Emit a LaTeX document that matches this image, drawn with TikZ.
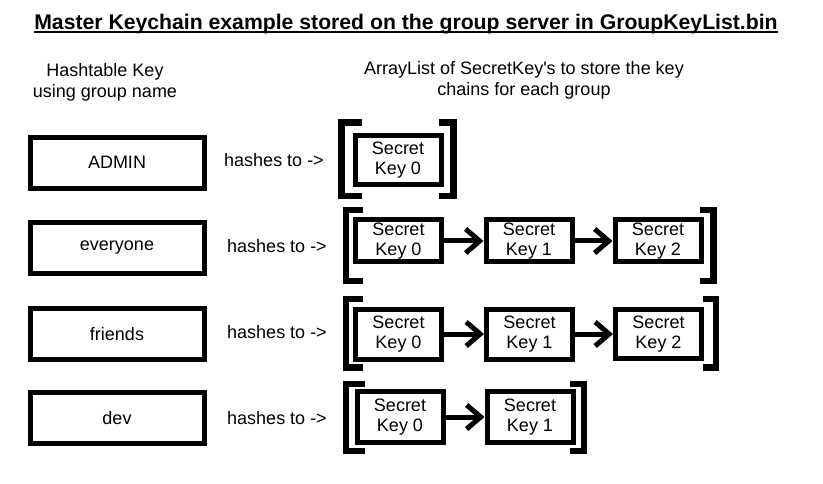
\documentclass[tikz,border=0pt]{standalone}
\usepackage{fontspec}
\setmainfont{Liberation Sans}
\usetikzlibrary{shapes, arrows.meta, positioning}
\tikzstyle{block} = [draw, rectangle, line width=5pt,
    minimum height=51pt, minimum width=174pt, inner sep=0pt]
\tikzstyle{keyblock} = [draw, rectangle, line width=5pt,
    minimum width=86pt, inner sep=0pt, align=center]
\tikzstyle{bracket} = [line width=6.5pt]
\tikzstyle{link} = [line width=5pt, -{Straight Barb[length=14pt, width=24pt]}]

\begin{document}
\begin{tikzpicture}[x=1pt, y=-1pt, font=\fontsize{18}{20.5}\selectfont]
        \useasboundingbox (0,0) rectangle (823,484);
        \node[inner sep=0pt, anchor=base, font=\fontsize{21.2}{25}\selectfont\bfseries] (title) at (406,30) {Master Keychain example stored on the group server in GroupKeyList.bin};
        \draw[line width=2pt] ([yshift=-2.3pt]title.base west) -- ([yshift=-2.3pt]title.base east);
        \node[inner sep=0pt, align=center] (hashhead) at (105,82.5) {Hashtable Key\\using group name};
        \node[inner sep=0pt, align=center] (listhead) at (524,80.5) {ArrayList of SecretKey\textquotesingle s to store the key\\chains for each group};

        % group names
        \node[block] (admin) at (117,162.75) {ADMIN};
        \node[block] (everyone) at (117,248) {everyone};
        \node[block] (friends) at (117,334) {friends};
        \node[block] (dev) at (117,418) {dev};

        \node (hashadmin) at (274,160) {hashes to ->};
        \node (hasheveryone) at (277,246) {hashes to ->};
        \node (hashfriends) at (277,332) {hashes to ->};
        \node (hashdev) at (277,418) {hashes to ->};

        % key chains
        \node[keyblock, minimum height=49.5pt] (adminkey0) at (398,160) {Secret\\Key 0};
        \node[keyblock, minimum height=42pt] (everyonekey0) at (398.5,241) {Secret\\Key 0};
        \node[keyblock, minimum height=42pt] (everyonekey1) at (529,241) {Secret\\Key 1};
        \node[keyblock, minimum height=42pt] (everyonekey2) at (658,241) {Secret\\Key 2};
        \node[keyblock, minimum height=50pt] (friendskey0) at (398.5,334) {Secret\\Key 0};
        \node[keyblock, minimum height=50pt] (friendskey1) at (529.5,334) {Secret\\Key 1};
        \node[keyblock, minimum height=49pt] (friendskey2) at (658.5,334) {Secret\\Key 2};
        \node[keyblock, minimum height=51pt] (devkey0) at (400,417) {Secret\\Key 0};
        \node[keyblock, minimum height=51pt] (devkey1) at (530,417) {Secret\\Key 1};

        \draw[link] (everyonekey0) -- (everyonekey1);
        \draw[link] (everyonekey1) -- (everyonekey2);
        \draw[link] (friendskey0) -- (friendskey1);
        \draw[link] (friendskey1) -- (friendskey2);
        \draw[link] (devkey0) -- (devkey1);

        % brackets round each list
        \draw[bracket] (361.7,122.5) -| (341.5,195.8) -- (361.7,195.8);
        \draw[bracket] (439,122.5) -| (453.5,195.8) -- (439,195.8);
        \draw[bracket] (363,210.2) -| (346,280.8) -- (363,280.8);
        \draw[bracket] (700,210.2) -| (713.5,280.8) -- (700,280.8);
        \draw[bracket] (363,299.2) -| (346,367.5) -- (363,367.5);
        \draw[bracket] (703,299.2) -| (716,367.5) -- (703,367.5);
        \draw[bracket] (365,383.9) -| (346,450.8) -- (365,450.8);
        \draw[bracket] (570,383.9) -| (584,450.8) -- (570,450.8);
    \end{tikzpicture}
\end{document}
